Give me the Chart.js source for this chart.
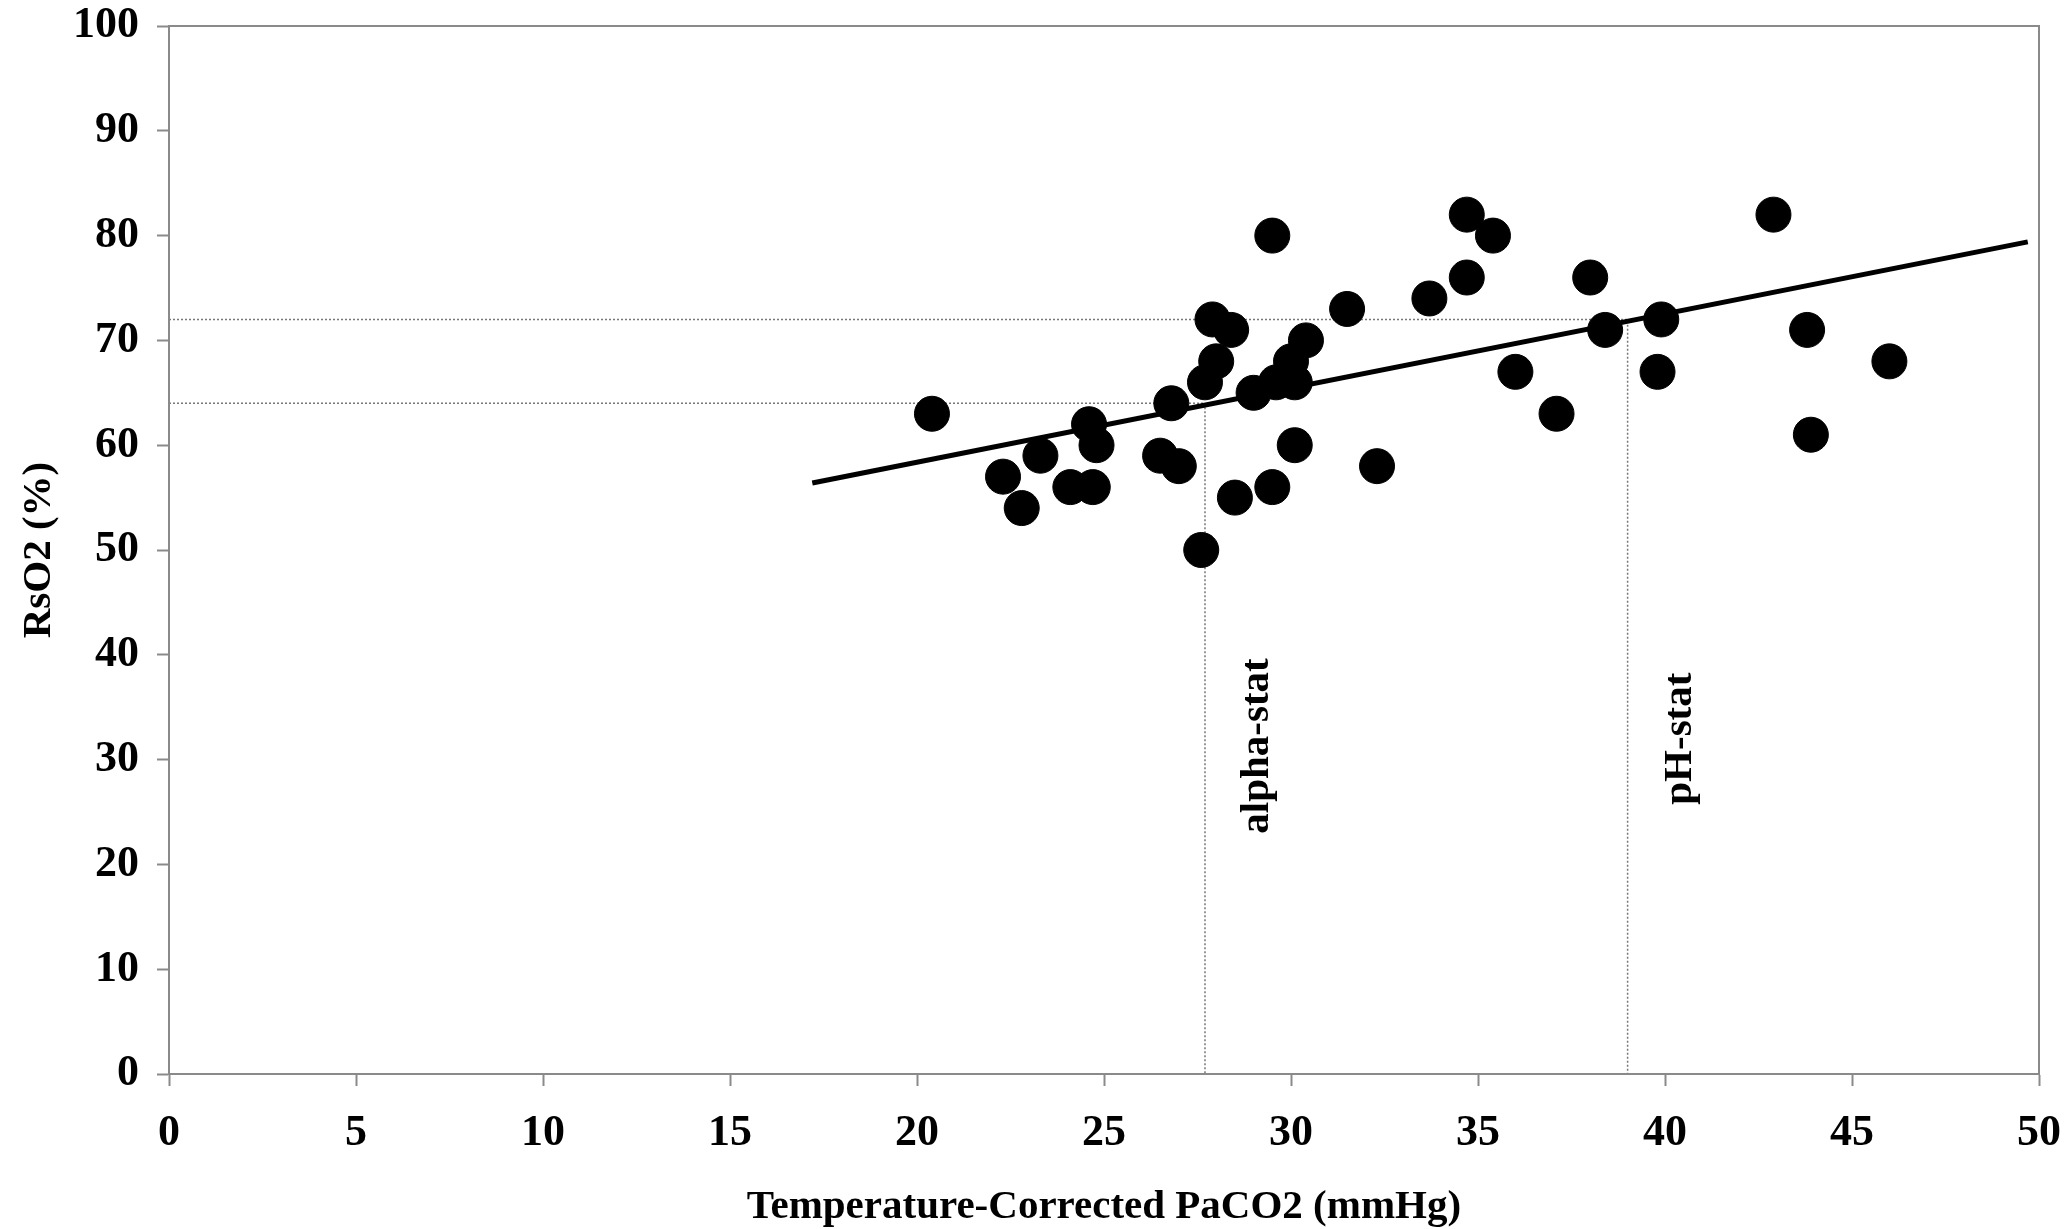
<!DOCTYPE html>
<html>
<head>
<meta charset="utf-8">
<script src="https://cdn.jsdelivr.net/npm/chart.js@4"></script>
<style>
 html,body{margin:0;padding:0;background:#fff}
 #wrap{width:2067px;height:1229px}
</style>
</head>
<body>
<div id="wrap"><canvas id="chart" width="2067" height="1229"></canvas></div>
<script>
// PaCO2 (mmHg) vs RsO2 (%)
const paco2=[20.4,22.3,22.8,23.3,24.1,24.6,24.7,24.8,26.5,26.8,27.0,27.6,27.7,27.9,28.0,28.4,28.5,29.0,29.5,29.5,29.6,30.0,30.1,30.1,30.4,31.5,32.3,33.7,34.7,34.7,35.4,36.0,37.1,38.0,38.4,39.9,39.8,42.9,43.8,43.9,46.0];
const rso2 =[63,57,54,59,56,62,56,60,59,64,58,50,66,72,68,71,55,65,80,56,66,68,66,60,70,73,58,74,82,76,80,67,63,76,71,72,67,82,71,61,68];

// regression line ends
const fitX=[17.2,49.7];
const fitY=[56.4,79.4];

// alpha-stat / pH-stat reference values
const statNames=["alpha-stat","pH-stat"];
const statX=[27.7,39.0];
const statY=[64,72];
const statLabelY=[31.3,32.0];

const xTicks=[0,5,10,15,20,25,30,35,40,45,50];
const yTicks=[0,10,20,30,40,50,60,70,80,90,100];

const gray="#8a8a8a";
const serif="'Liberation Serif','DejaVu Serif',serif";

let pts=paco2.map((x,i)=>({x,y:rso2[i]}));
let fit=fitX.map((x,i)=>({x,y:fitY[i]}));

let refSets=statX.map((sx,i)=>({
 type:"line",
 data:[{x:xTicks[0],y:statY[i]},{x:sx,y:statY[i]},{x:sx,y:yTicks[0]}],
 borderColor:"#777",borderWidth:1.5,borderDash:[2,2],pointRadius:0,fill:false,order:3
}));

const frame={
 id:"frame",
 afterDatasetsDraw(c){
  let {ctx,chartArea:a,scales}=c;
  ctx.save();
  ctx.strokeStyle=gray;ctx.lineWidth=2;
  ctx.strokeRect(a.left,a.top,a.right-a.left,a.bottom-a.top);
  ctx.fillStyle="#000";
  ctx.font="bold 41px "+serif;
  ctx.textAlign="center";ctx.textBaseline="middle";
  statNames.forEach((t,i)=>{
   let px=scales.x.getPixelForValue(statX[i]+1.4);
   let py=scales.y.getPixelForValue(statLabelY[i]);
   ctx.save();ctx.translate(px,py);ctx.rotate(-Math.PI/2);
   ctx.fillText(t,0,0);ctx.restore();
  });
  ctx.restore();
 }
};

new Chart(document.getElementById("chart"),{
 type:"scatter",
 data:{datasets:[
  {data:pts,backgroundColor:"#000",borderColor:"#000",pointRadius:17.5,pointHoverRadius:17.5,order:2},
  {type:"line",data:fit,borderColor:"#000",borderWidth:5,pointRadius:0,fill:false,order:1},
  ...refSets
 ]},
 options:{
  responsive:false,animation:false,
  layout:{padding:{top:26,right:28,left:0,bottom:0}},
  plugins:{legend:{display:false},tooltip:{enabled:false}},
  scales:{
   x:{type:"linear",min:0,max:50,
    afterBuildTicks(s){s.ticks=xTicks.map(v=>({value:v}))},
    afterFit(s){s.height=155;s.paddingLeft=0;s.paddingRight=0},
    grid:{drawOnChartArea:false,tickLength:12,tickWidth:2,tickColor:gray},
    border:{color:gray,width:2},
    ticks:{color:"#000",padding:26,font:{family:serif,size:44,weight:"bold",lineHeight:1},maxRotation:0},
    title:{display:true,text:"Temperature-Corrected PaCO2 (mmHg)",color:"#000",
     font:{family:serif,size:41,weight:"bold"},padding:{top:0,bottom:-3}}
   },
   y:{type:"linear",min:0,max:100,
    afterBuildTicks(s){s.ticks=yTicks.map(v=>({value:v}))},
    afterFit(s){s.width=169;s.paddingTop=0;s.paddingBottom=0},
    grid:{drawOnChartArea:false,tickLength:12,tickWidth:2,tickColor:gray},
    border:{color:gray,width:2},
    ticks:{color:"#000",padding:18,font:{family:serif,size:44,weight:"bold",lineHeight:1}},
    title:{display:true,text:"RsO2 (%)",color:"#000",
     font:{family:serif,size:41,weight:"bold"},padding:{top:15,bottom:0}}
   }
  }
 },
 plugins:[frame]
});
</script>
</body>
</html>
